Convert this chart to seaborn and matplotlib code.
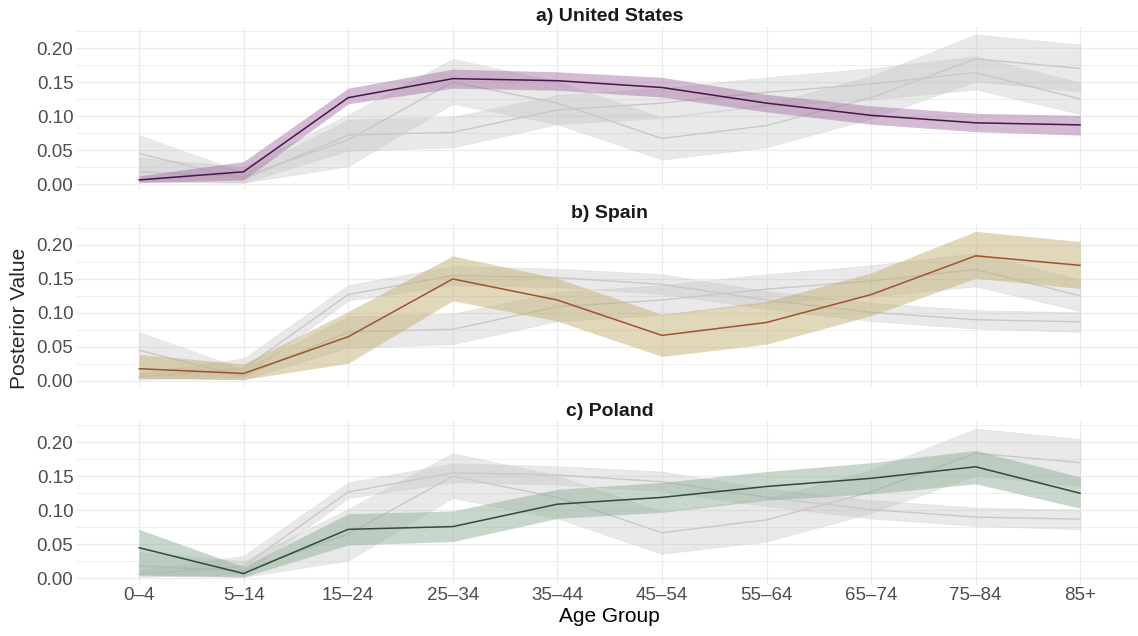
import numpy as np
import pandas as pd
from matplotlib import pyplot as plt
import seaborn as sns

# Data

age_groups = ["0–4", "5–14", "15–24", "25–34", "35–44", "45–54", "55–64", "65–74", "75–84", "85+"]
countries = ["United States", "Spain", "Poland"]

us_median = [0.006, 0.018, 0.127, 0.155, 0.152, 0.142, 0.119, 0.101, 0.090, 0.087]
us_lower = [0.002, 0.006, 0.118, 0.141, 0.138, 0.128, 0.106, 0.088, 0.077, 0.072]
us_upper = [0.012, 0.033, 0.141, 0.169, 0.165, 0.157, 0.132, 0.115, 0.104, 0.101]

es_median = [0.018, 0.011, 0.065, 0.150, 0.119, 0.067, 0.086, 0.127, 0.184, 0.170]
es_lower = [0.004, 0.002, 0.026, 0.118, 0.088, 0.036, 0.054, 0.096, 0.151, 0.136]
es_upper = [0.039, 0.025, 0.102, 0.184, 0.151, 0.098, 0.117, 0.159, 0.220, 0.205]

pl_median = [0.045, 0.007, 0.072, 0.076, 0.109, 0.119, 0.135, 0.147, 0.164, 0.125]
pl_lower = [0.005, 0.002, 0.049, 0.054, 0.088, 0.097, 0.115, 0.124, 0.139, 0.103]
pl_upper = [0.072, 0.017, 0.095, 0.099, 0.131, 0.141, 0.157, 0.170, 0.188, 0.149]

line_colors = {"United States": "#4a1446", "Spain": "#a0522d", "Poland": "#2f4b3a"}
band_colors = {"United States": "#a878a8", "Spain": "#c4b277", "Poland": "#91b199"}
panel_titles = {"United States": "a) United States", "Spain": "b) Spain", "Poland": "c) Poland"}

frames = []
for c, med, lo, hi in zip(countries,
                          [us_median, es_median, pl_median],
                          [us_lower, es_lower, pl_lower],
                          [us_upper, es_upper, pl_upper]):
    frames.append(pd.DataFrame({"country": c, "age": age_groups, "x": np.arange(len(age_groups)),
                                "median": med, "lower": lo, "upper": hi}))
df = pd.concat(frames, ignore_index=True)

sns.set_theme(style="whitegrid")
plt.rcParams['font.family'] = ['Liberation Sans', 'DejaVu Sans']

fig = plt.figure(figsize=(11.38, 6.36), dpi=100)
bottoms = [0.7006, 0.391, 0.0807]
axes = [fig.add_axes([0.067, b, 0.9374, 0.257]) for b in bottoms]

for ax, c in zip(axes, countries):
    # other countries in grey underneath
    for o in countries:
        if o == c:
            continue
        d = df[df.country == o]
        ax.fill_between(d.x, d.lower, d.upper, color="#bebebe", alpha=0.33, lw=0.6,
                        edgecolor="#cacaca", zorder=2)
        sns.lineplot(data=d, x="x", y="median", color="#c8c8c8", lw=1.0, ax=ax, zorder=3)
    d = df[df.country == c]
    ax.fill_between(d.x, d.lower, d.upper, color=band_colors[c], alpha=0.5, lw=0, zorder=4)
    sns.lineplot(data=d, x="x", y="median", color=line_colors[c], lw=1.1, ax=ax, zorder=5)

    ax.set_xlim(-0.6, 9.6)
    ax.set_ylim(-0.0094, 0.231)
    ax.set_yticks([0.0, 0.05, 0.10, 0.15, 0.20])
    ax.set_yticks([0.025, 0.075, 0.125, 0.175, 0.225], minor=True)
    ax.set_yticklabels(["0.00", "0.05", "0.10", "0.15", "0.20"])
    ax.set_xticks(range(len(age_groups)))
    ax.grid(which="major", color="#ebebeb", lw=0.9)
    ax.grid(which="minor", axis="y", color="#ebebeb", lw=0.6)
    ax.tick_params(axis="both", which="both", length=0, labelsize=13.5, labelcolor="#4d4d4d", pad=2)
    for s in ax.spines.values():
        s.set_visible(False)
    ax.set_title(panel_titles[c], fontsize=14, fontweight="bold", color="#1a1a1a", pad=4)
    ax.set_xlabel("")
    ax.set_ylabel("")
    if ax is axes[-1]:
        ax.set_xticklabels(age_groups)
    else:
        ax.set_xticklabels([])

axes[-1].set_xlabel("Age Group", fontsize=15, color="black", labelpad=2)
fig.text(0.0167, 0.5, "Posterior Value", rotation=90, va="center", ha="center", fontsize=15)

fig.savefig("out.png", dpi=100)
